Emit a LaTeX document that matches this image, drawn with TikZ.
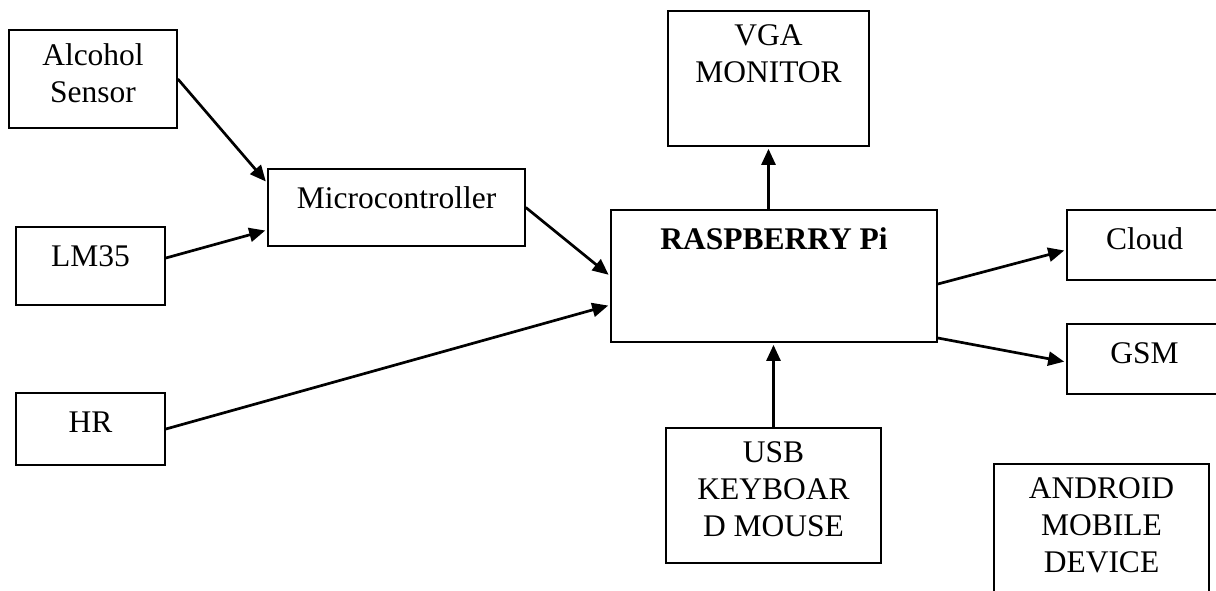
\documentclass[tikz,border=0pt]{standalone}
\usepackage{fontspec}
\setmainfont{Liberation Serif}
\usetikzlibrary{arrows.meta}

\tikzset{
  blk/.style={draw, line width=1.7pt, inner sep=0pt},
  lbl/.style={anchor=north, align=center, inner sep=0pt, yshift=-14.6pt,
    font=\fontsize{31.5}{37}\selectfont, execute at begin node=\strut},
  arr/.style={line width=2.7pt, -{Triangle[length=16pt,width=14pt]}, shorten >=2pt},
}

\begin{document}
\begin{tikzpicture}[x=1pt,y=-1pt]
\clip (0,0) rectangle (1216,590);

% sensors and microcontroller
\node[blk, minimum width=168pt, minimum height=98pt] (alc) at (93,79) {};
\node[lbl] (alc-t) at (alc.north) {Alcohol\\Sensor};
\node[blk, minimum width=149pt, minimum height=78pt] (lm) at (90.5,266) {};
\node[lbl] (lm-t) at (lm.north) {LM35};
\node[blk, minimum width=149pt, minimum height=72pt] (hr) at (90.5,429) {};
\node[lbl] (hr-t) at (hr.north) {HR};
\node[blk, minimum width=257pt, minimum height=77pt] (mcu) at (396.5,207.5) {};
\node[lbl] (mcu-t) at (mcu.north) {Microcontroller};

% raspberry pi and peripherals
\node[blk, minimum width=326pt, minimum height=132pt] (pi) at (774,276) {};
\node[lbl] (pi-t) at (pi.north) {\textbf{RASPBERRY Pi}};
\node[blk, minimum width=201pt, minimum height=135pt] (vga) at (768.5,78.5) {};
\node[lbl] (vga-t) at (vga.north) {VGA\\MONITOR};
\node[blk, minimum width=215pt, minimum height=135pt] (usb) at (773.5,495.5) {};
\node[lbl] (usb-t) at (usb.north) {USB\\KEYBOAR\\D MOUSE};
\node[blk, minimum width=155pt, minimum height=70pt] (cloud) at (1144.5,245) {};
\node[lbl] (cloud-t) at (cloud.north) {Cloud};
\node[blk, minimum width=155pt, minimum height=70pt] (gsm) at (1144.5,359) {};
\node[lbl] (gsm-t) at (gsm.north) {GSM};
\node[blk, minimum width=215pt, minimum height=156pt] (andr) at (1101.5,542) {};
\node[lbl] (andr-t) at (andr.north) {ANDROID\\MOBILE\\DEVICE};

% connections
\draw[arr] (alc.east) -- ([yshift=24.5pt]mcu.west);
\draw[arr] ([yshift=8pt]lm.east) -- ([yshift=-22.5pt]mcu.west);
\draw[arr] (mcu.east) -- (pi.west);
\draw[arr] (hr.east) -- ([yshift=-29pt]pi.west);
\draw[arr] (pi.north -| vga.south) -- (vga.south);
\draw[arr] (usb.north) -- (usb.north |- pi.south);
\draw[arr] ([yshift=-8pt]pi.east) -- ([yshift=-5pt]cloud.west);
\draw[arr] ([yshift=-62pt]pi.east) -- ([yshift=-3pt]gsm.west);
\end{tikzpicture}
\end{document}
